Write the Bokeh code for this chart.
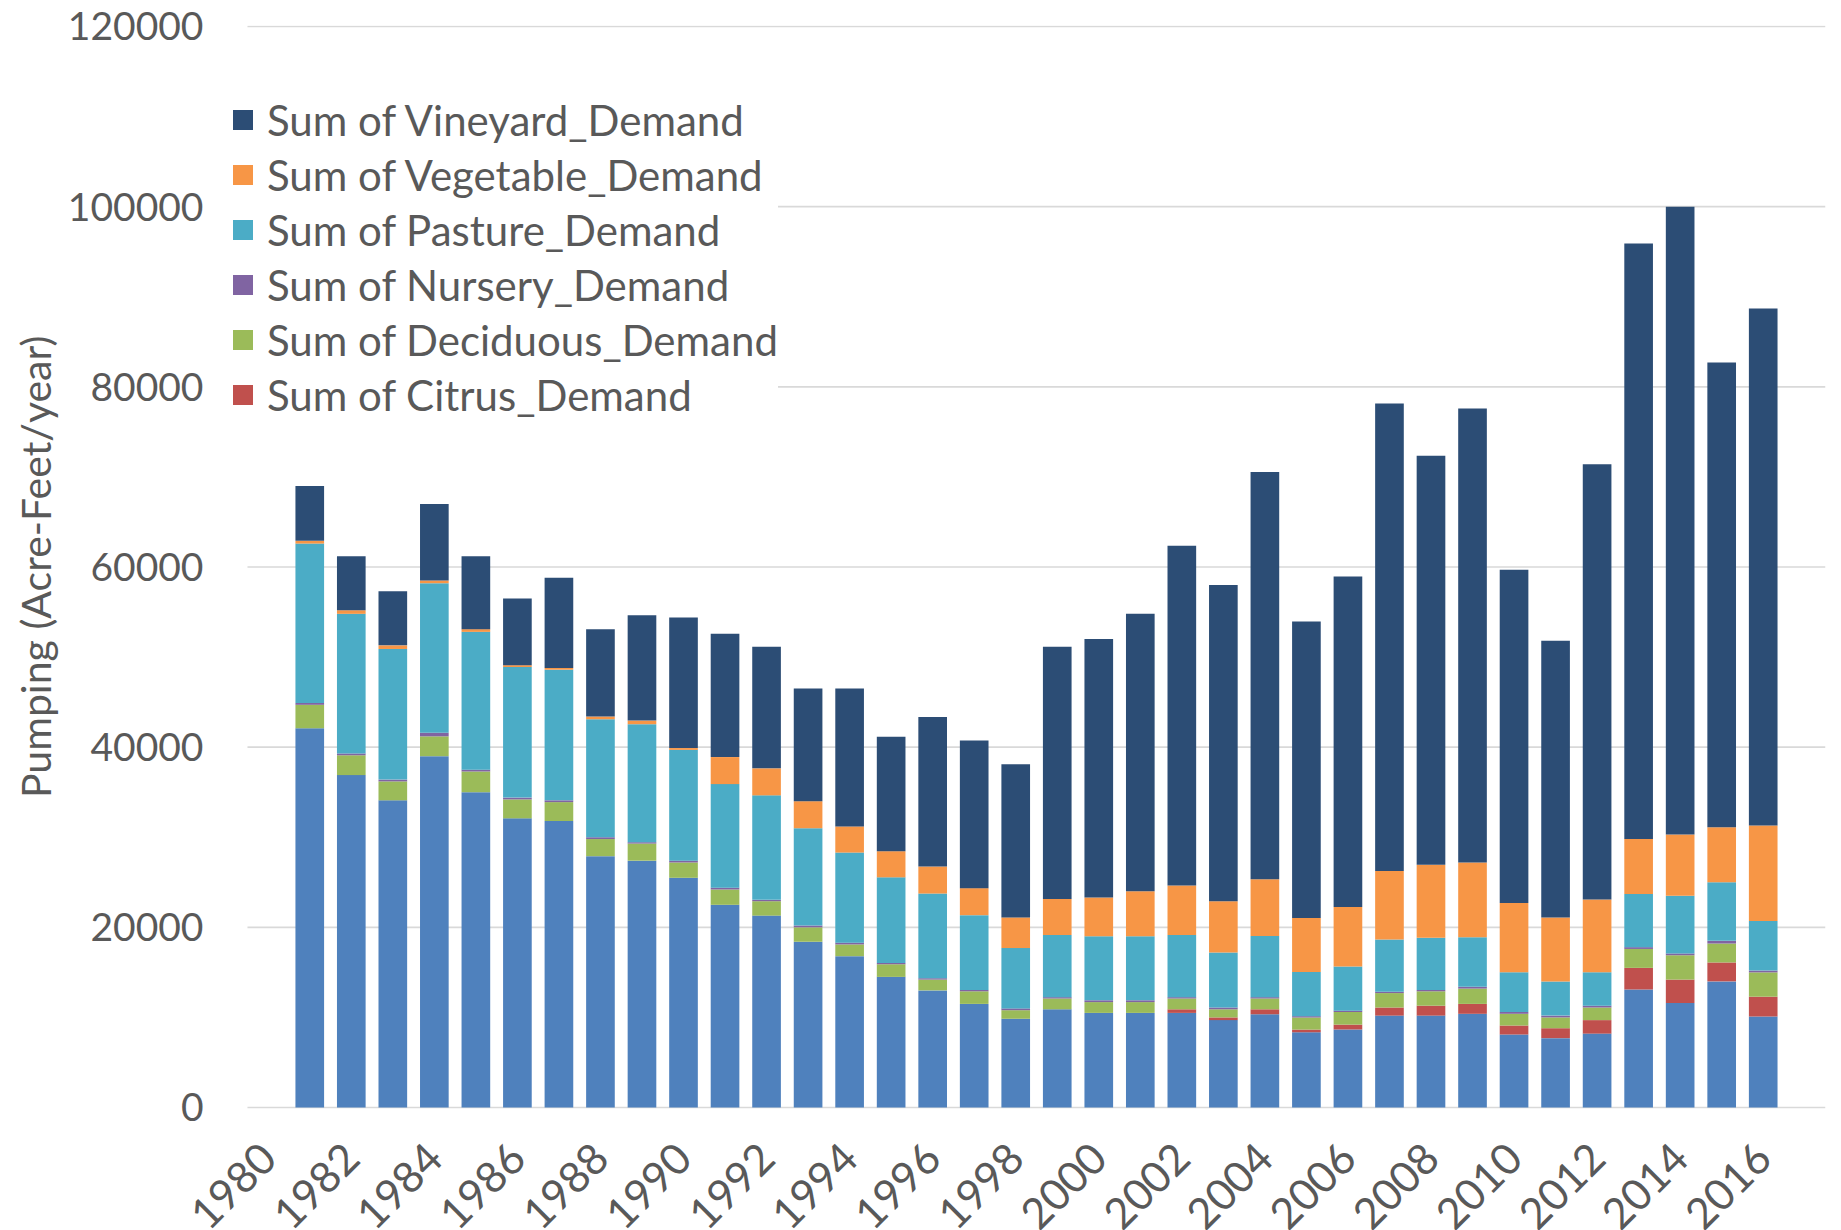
import math
from bokeh.plotting import figure
from bokeh.models import (ColumnDataSource, FixedTicker, Legend, LegendItem,
                          BasicTickFormatter, Range1d, Title)
from bokeh.core.properties import value
from bokeh.embed import file_html
from bokeh.resources import INLINE

# ---------------- data (acre-feet / year) ----------------
years = list(range(1981, 2017))
x_tick_years = list(range(1980, 2017, 2))
x_tick_labels = [str(y) for y in x_tick_years]
y_ticks = [0, 20000, 40000, 60000, 80000, 100000, 120000]

# bottom (blue) series – its legend entry is not visible in the original
base_series = [42100, 36900, 34100, 39000, 35000, 32100, 31800, 27900, 27400, 25500,
               22500, 21300, 18400, 16800, 14500, 13000, 11500, 9850, 10900, 10500,
               10500, 10500, 9700, 10350, 8350, 8660, 10200, 10200, 10400, 8100,
               7700, 8200, 13100, 11600, 14000, 10100]
citrus = [0, 0, 0, 0, 0, 0, 0, 0, 0, 0,
          0, 0, 0, 0, 0, 0, 0, 0, 0, 0,
          0, 400, 300, 550, 300, 540, 900, 1100, 1100, 1000,
          1100, 1500, 2400, 2600, 2100, 2200]
deciduous = [2600, 2200, 2100, 2200, 2300, 2100, 2100, 1900, 1900, 1700,
             1700, 1600, 1600, 1300, 1400, 1200, 1400, 950, 1200, 1200,
             1200, 1200, 900, 1200, 1340, 1400, 1600, 1600, 1700, 1300,
             1200, 1400, 2100, 2700, 2100, 2700]
nursery = [200, 200, 200, 400, 200, 200, 200, 200, 150, 200,
           200, 150, 200, 200, 150, 150, 150, 200, 150, 200,
           200, 150, 200, 150, 150, 150, 150, 150, 200, 200,
           200, 200, 200, 200, 300, 200]
pasture = [17700, 15500, 14500, 16600, 15300, 14500, 14500, 13100, 13100, 12300,
           11500, 11600, 10800, 10000, 9500, 9400, 8300, 6700, 6900, 7100,
           7100, 6900, 6100, 6800, 4900, 4900, 5800, 5800, 5500, 4400,
           3800, 3700, 5900, 6400, 6500, 5500]
vegetable = [300, 400, 400, 300, 300, 200, 200, 300, 400, 200,
             3000, 3000, 3000, 2900, 2900, 3000, 3000, 3400, 4000, 4300,
             5000, 5500, 5700, 6300, 6000, 6600, 7600, 8100, 8300, 7700,
             7100, 8100, 6100, 6800, 6100, 10600]
vineyard = [6100, 6000, 6000, 8500, 8100, 7400, 10000, 9700, 11700, 14500,
            13700, 13500, 12500, 15300, 12700, 16600, 16400, 17000, 28000, 28700,
            30800, 37700, 35100, 45200, 32900, 36700, 51900, 45400, 50400, 37000,
            30700, 48300, 66100, 69700, 51600, 57400]

series_keys = ["base", "citrus", "deciduous", "nursery", "pasture", "vegetable", "vineyard"]
legend_labels = {
    "vineyard": "Sum of Vineyard_Demand",
    "vegetable": "Sum of Vegetable_Demand",
    "pasture": "Sum of Pasture_Demand",
    "nursery": "Sum of Nursery_Demand",
    "deciduous": "Sum of Deciduous_Demand",
    "citrus": "Sum of Citrus_Demand",
}
colors = ["#4F81BD", "#C0504D", "#9BBB59", "#8064A2", "#4BACC6", "#F79646", "#2C4D75"]

FONT = "Lato"
TEXT = "#595959"
GRID = "#D9D9D9"

# category span of the plot area (1980 .. 2017 slots) and frame extent
CAT_START, CAT_END = 1979.5, 2017.5
X_START = 1978.128
Y_START, Y_END = -13655, 120111

source = ColumnDataSource(dict(year=years, base=base_series, citrus=citrus,
                               deciduous=deciduous, nursery=nursery, pasture=pasture,
                               vegetable=vegetable, vineyard=vineyard))

p = figure(width=1841, height=1230, output_backend="svg", toolbar_location=None,
           x_range=Range1d(X_START, CAT_END), y_range=Range1d(Y_START, Y_END),
           x_axis_location=None,
           min_border_left=190, min_border_right=16, min_border_top=25,
           min_border_bottom=0)
p.outline_line_color = None
p.background_fill_color = "white"
p.border_fill_color = "white"
p.xgrid.visible = False
p.ygrid.visible = False

# horizontal gridlines (and base line) spanning the category area only
p.segment(x0=[CAT_START] * len(y_ticks), x1=[CAT_END] * len(y_ticks),
          y0=y_ticks, y1=y_ticks, line_color=GRID, line_width=1.6)

renderers = p.vbar_stack(series_keys, x="year", width=0.69, source=source,
                         fill_color=colors, line_color=None)

# x tick labels (rotated 45 degrees, hanging below the base line)
p.text(x=x_tick_years, y=[0] * len(x_tick_years), text=x_tick_labels,
       angle=math.pi / 4, text_align="right", text_baseline="middle",
       x_offset=0, y_offset=43, text_font=value(FONT), text_font_size="43px",
       text_color=TEXT)

# y axis
p.yaxis.ticker = FixedTicker(ticks=y_ticks)
p.yaxis.formatter = BasicTickFormatter(use_scientific=False)
p.yaxis.major_label_text_font = FONT
p.yaxis.major_label_text_font_size = "39px"
p.yaxis.major_label_text_color = TEXT
p.yaxis.major_label_standoff = -13
p.yaxis.axis_line_color = None
p.yaxis.major_tick_line_color = None
p.yaxis.minor_tick_line_color = None
p.yaxis.major_tick_out = 0
p.yaxis.major_tick_in = 0
p.yaxis.minor_tick_out = 0
p.yaxis.minor_tick_in = 0

p.add_layout(Title(text="Pumping (Acre-Feet/year)", align="right", offset=310,
                   text_font=FONT, text_font_size="41px", text_font_style="normal",
                   text_color=TEXT), "left")

# legend (stack order reversed, bottom blue series not listed)
items = []
for key, r in reversed(list(zip(series_keys, renderers))):
    if key in legend_labels:
        items.append(LegendItem(label=legend_labels[key], renderers=[r]))
legend = Legend(items=items, location=(40, 810), orientation="vertical",
                label_text_font=FONT, label_text_font_size="42px",
                label_text_color=TEXT, glyph_width=25, glyph_height=25,
                label_height=51, label_width=510, label_standoff=12, spacing=4,
                padding=20, margin=0, background_fill_color="white",
                background_fill_alpha=1, border_line_color=None)
p.add_layout(legend, "center")

open("out.html", "w").write(file_html(p, INLINE))
